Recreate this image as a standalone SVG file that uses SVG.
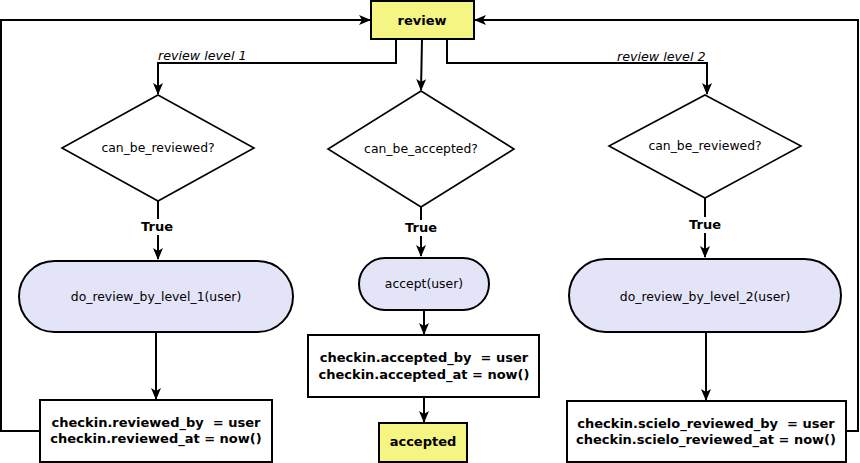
<svg xmlns="http://www.w3.org/2000/svg" width="860" height="463" viewBox="0 0 860 463">
<style>
text{font-family:"DejaVu Sans",sans-serif;fill:#000;white-space:pre}
.b{font-weight:bold;font-size:13px}
.n{font-size:12.4px}
.i{font-size:12.7px;font-style:italic}
.box{fill:#fff;stroke:#000;stroke-width:2}
.yel{fill:#f5f584;stroke:#000;stroke-width:2}
.pill{fill:#e4e4f8;stroke:#000;stroke-width:2}
.dia{fill:#fff;stroke:#000;stroke-width:1.6}
.c path{fill:none;stroke:#000;stroke-width:2;marker-end:url(#ah)}
</style>
<defs>
<marker id="ah" viewBox="0 0 12 10" refX="11" refY="5" markerWidth="12" markerHeight="10" markerUnits="userSpaceOnUse" orient="auto">
<path d="M0,0 L12,5 L0,10 L3,5 z" fill="#000"/>
</marker>
</defs>
<rect width="860" height="463" fill="#fff"/>
<g class="c" id="connectors">
<path d="M396,39 V63 H158 V94"/>
<path d="M422,39 L421,90"/>
<path d="M447,39 V63 H707 V94"/>
<path d="M158,201 V259"/>
<path d="M421,207 V256"/>
<path d="M705,198 V257"/>
<path d="M156,332 V399"/>
<path d="M424,310 V334"/>
<path d="M424,397 V422"/>
<path d="M706,332 V400"/>
<path d="M40,431 H1 V20 H370"/>
<path d="M846,431 H858 V20 H475"/>
<text class="i" x="158" y="60">review level 1</text>
<text class="i" x="617" y="61">review level 2</text>
<rect x="140" y="219" width="36" height="16" fill="#fff" stroke="none"/>
<text class="b" x="157" y="231" text-anchor="middle">True</text>
<rect x="403" y="220" width="36" height="16" fill="#fff" stroke="none"/>
<text class="b" x="421" y="232" text-anchor="middle">True</text>
<rect x="687" y="217" width="36" height="16" fill="#fff" stroke="none"/>
<text class="b" x="705" y="229" text-anchor="middle">True</text>
</g>
<g id="review">
<rect class="yel" x="371" y="1" width="103" height="38"/>
<text class="b" x="422" y="25" text-anchor="middle">review</text>
</g>
<g id="d1">
<polygon class="dia" points="158,95 254,148 158,201 62,148"/>
<text class="n" x="158" y="152" text-anchor="middle">can_be_reviewed?</text>
</g>
<g id="d2">
<polygon class="dia" points="421,91 514,149 421,207 328,149"/>
<text class="n" x="421" y="153" text-anchor="middle">can_be_accepted?</text>
</g>
<g id="d3">
<polygon class="dia" points="705,95 801,146 705,198 609,146"/>
<text class="n" x="705" y="150" text-anchor="middle">can_be_reviewed?</text>
</g>
<g id="p1">
<rect class="pill" x="19" y="261" width="274" height="71" rx="35.5"/>
<text class="n" x="156" y="301" text-anchor="middle">do_review_by_level_1(user)</text>
</g>
<g id="p2">
<rect class="pill" x="359" y="258" width="130" height="52" rx="26"/>
<text class="n" x="424" y="288" text-anchor="middle">accept(user)</text>
</g>
<g id="p3">
<rect class="pill" x="569" y="259" width="272" height="73" rx="36.5"/>
<text class="n" x="705" y="301" text-anchor="middle">do_review_by_level_2(user)</text>
</g>
<g id="b1">
<rect class="box" x="40" y="400" width="232" height="62"/>
<text class="b" x="156" y="427" text-anchor="middle">checkin.reviewed_by  = user</text>
<text class="b" x="156" y="443" text-anchor="middle">checkin.reviewed_at = now()</text>
</g>
<g id="b2">
<rect class="box" x="308" y="335" width="231" height="62"/>
<text class="b" x="424" y="362" text-anchor="middle">checkin.accepted_by  = user</text>
<text class="b" x="424" y="379" text-anchor="middle">checkin.accepted_at = now()</text>
</g>
<g id="accepted">
<rect class="yel" x="379" y="423" width="88" height="39"/>
<text class="b" x="423" y="446" text-anchor="middle">accepted</text>
</g>
<g id="b3">
<rect class="box" x="567" y="401" width="279" height="61"/>
<text class="b" x="706" y="428" text-anchor="middle">checkin.scielo_reviewed_by  = user</text>
<text class="b" x="706" y="444" text-anchor="middle">checkin.scielo_reviewed_at = now()</text>
</g>
</svg>
